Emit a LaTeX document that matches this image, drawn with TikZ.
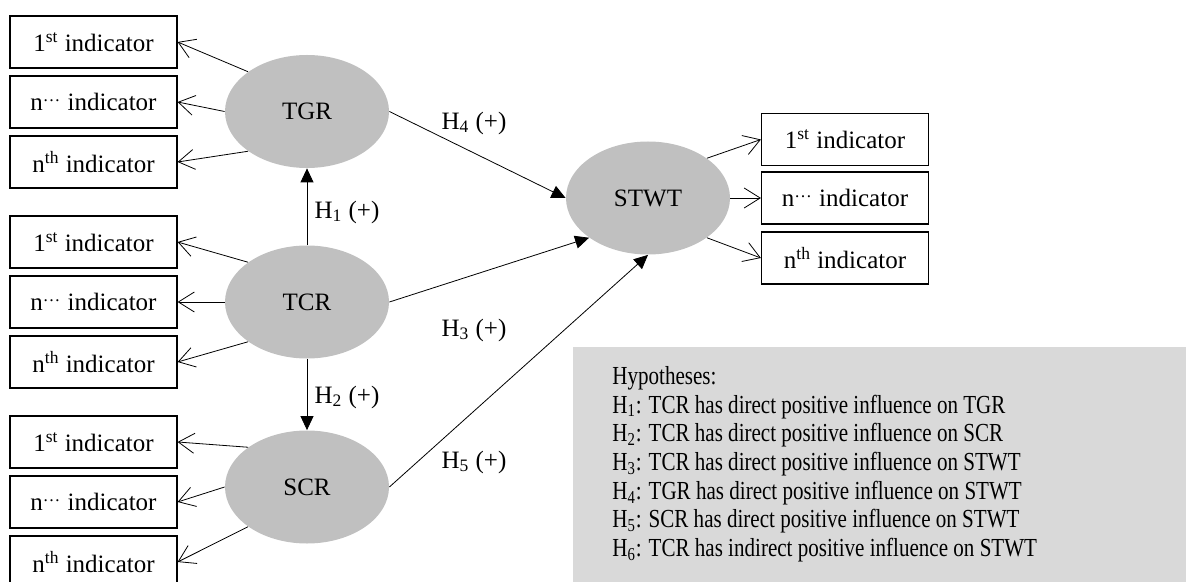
\documentclass[tikz,border=0pt]{standalone}
\usepackage{fontspec}
\setmainfont{Liberation Serif}
\usetikzlibrary{shapes.geometric,arrows.meta}
\definecolor{latgray}{HTML}{C0C0C0}
\definecolor{hypgray}{HTML}{D9D9D9}
\newcommand{\nfont}{\fontsize{12.5}{15}\selectfont}
\begin{document}
\begin{tikzpicture}[x=0.5pt,y=-0.5pt,
  ind/.style={draw, line width=0.6pt, minimum width=83.5pt, minimum height=26pt, inner sep=0pt, font=\nfont},
  latent/.style={ellipse, fill=latgray, minimum width=82pt, minimum height=56.5pt, inner sep=0pt, font=\nfont},
  loading/.style={-{Straight Barb[length=8pt,width=10pt]}, line width=0.4pt},
  effect/.style={-{Triangle[length=7pt,width=6.5pt]}, line width=0.4pt},
  hlab/.style={inner sep=0pt, font=\nfont}]
\useasboundingbox (0,0) rectangle (1186,582);
% latent constructs
\node [latent] (tgr) at (307,111.5) {TGR};
\node [latent] (tcr) at (307,302) {TCR};
\node [latent] (scr) at (307,487) {SCR};
\node [latent] (stwt) at (648,198) {STWT};
% indicators of TGR
\node [ind] (tgr1) at (93.5,42) {1\textsuperscript{st} indicator};
\node [ind] (tgr2) at (93.5,102) {n\textsuperscript{\dots} indicator};
\node [ind] (tgr3) at (93.5,162) {n\textsuperscript{th} indicator};
% indicators of TCR
\node [ind] (tcr1) at (93.5,242) {1\textsuperscript{st} indicator};
\node [ind] (tcr2) at (93.5,302) {n\textsuperscript{\dots} indicator};
\node [ind] (tcr3) at (93.5,362) {n\textsuperscript{th} indicator};
% indicators of SCR
\node [ind] (scr1) at (93.5,442) {1\textsuperscript{st} indicator};
\node [ind] (scr2) at (93.5,502) {n\textsuperscript{\dots} indicator};
\node [ind] (scr3) at (93.5,562) {n\textsuperscript{th} indicator};
% indicators of STWT
\node [ind] (stwt1) at (845,139.5) {1\textsuperscript{st} indicator};
\node [ind] (stwt2) at (845,198) {n\textsuperscript{\dots} indicator};
\node [ind] (stwt3) at (845,258) {n\textsuperscript{th} indicator};
% loadings
\draw [loading] (tgr.146) -- (tgr1.east);
\draw [loading] (tgr.180) -- (tgr2.east);
\draw [loading] (tgr.214) -- (tgr3.east);
\draw [loading] (tcr.146) -- (tcr1.east);
\draw [loading] (tcr.180) -- (tcr2.east);
\draw [loading] (tcr.214) -- (tcr3.east);
\draw [loading] (scr.146) -- (scr1.east);
\draw [loading] (scr.180) -- (scr2.east);
\draw [loading] (scr.214) -- (scr3.east);
\draw [loading] (stwt.34) -- (stwt1.west);
\draw [loading] (stwt.0) -- (stwt2.west);
\draw [loading] (stwt.-34) -- (stwt3.west);
% hypothesised paths
\draw [effect] (tcr.north) -- (tgr.south);
\draw [effect] (tcr.south) -- (scr.north);
\draw [effect] (tcr.east) -- (stwt.214);
\draw [effect] (tgr.east) -- (stwt.west);
\draw [effect] (scr.east) -- (stwt.south);
\node [hlab] (h1) at (347,212) {H\textsubscript{1} (+)};
\node [hlab] (h2) at (347,397) {H\textsubscript{2} (+)};
\node [hlab] (h3) at (474,330) {H\textsubscript{3} (+)};
\node [hlab] (h4) at (474,123) {H\textsubscript{4} (+)};
\node [hlab] (h5) at (474,462) {H\textsubscript{5} (+)};
% legend
\fill [hypgray] (573,347) rectangle (1186,582);
\node [anchor=north west, inner sep=0pt] (hyp) at (612,364) {\scalebox{0.81}[1]{%
  \fontsize{13}{14.35}\selectfont
  \begin{tabular}{@{}l@{}}
  Hypotheses:\\
  H\textsubscript{1}: TCR has direct positive influence on TGR\\
  H\textsubscript{2}: TCR has direct positive influence on SCR\\
  H\textsubscript{3}: TCR has direct positive influence on STWT\\
  H\textsubscript{4}: TGR has direct positive influence on STWT\\
  H\textsubscript{5}: SCR has direct positive influence on STWT\\
  H\textsubscript{6}: TCR has indirect positive influence on STWT
  \end{tabular}}};
\end{tikzpicture}
\end{document}
